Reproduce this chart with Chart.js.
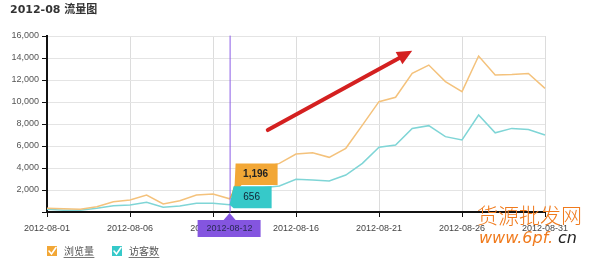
<!DOCTYPE html>
<html>
<head>
<meta charset="utf-8">
<script src="https://cdn.jsdelivr.net/npm/chart.js@4"></script>
<style>
  body { margin: 0; background: #fff; }
  canvas { display: block; }
</style>
</head>
<body>
<canvas id="trafficStats" width="590" height="263"></canvas>
<script>
var days = [];
for (var d = 1; d <= 31; d++) days.push('2012-08-' + (d < 10 ? '0' + d : d));

var pageViews = [336, 300, 245, 485, 940, 1090, 1545, 727, 1030, 1545, 1636, 1196,
  3600, 4000, 4420, 5270, 5390, 4970, 5790, 7900, 10030, 10430, 12600, 13360,
  11850, 10940, 14180, 12450, 12500, 12600, 11240];
var visitors = [245, 150, 150, 336, 575, 636, 880, 427, 540, 790, 790, 656,
  1800, 2200, 2360, 2970, 2900, 2820, 3360, 4420, 5880, 6090, 7600, 7850,
  6850, 6545, 8820, 7200, 7600, 7500, 7000];
var seriesNames = ['浏览量', '访客数'];
var yTicks = [0, 2000, 4000, 6000, 8000, 10000, 12000, 14000, 16000];
var hoverIndex = 11;

var lineColors = ['#f4c27c', '#7fd5d6'];
var boxColors = ['#f2a736', '#36c9c9'];

function fmt(v) { return v.toLocaleString('en-US'); }

// title, tooltip, arrow, legend and watermark drawn on top
var extras = {
  id: 'extras',
  afterDraw: function(chart) {
    var c = chart.ctx, x = chart.scales.x, y = chart.scales.y, a = chart.chartArea;
    c.save();
    c.fillStyle = '#333';
    c.font = 'bold 11px "DejaVu Sans", "Noto Sans CJK SC"';
    c.textBaseline = 'middle';
    c.fillText('2012-08 流量图', 10, 10);

    // red arrow
    var x0 = x.getPixelForValue(13.3), y0 = y.getPixelForValue(7450);
    var x1 = x.getPixelForValue(22), y1 = y.getPixelForValue(14650);
    var ang = Math.atan2(y1 - y0, x1 - x0);
    c.strokeStyle = '#d42020'; c.fillStyle = '#d42020';
    c.lineWidth = 4; c.lineCap = 'round';
    c.beginPath(); c.moveTo(x0, y0);
    c.lineTo(x1 - 10 * Math.cos(ang), y1 - 10 * Math.sin(ang)); c.stroke();
    c.beginPath(); c.moveTo(x1, y1);
    c.lineTo(x1 - 15 * Math.cos(ang) + 7 * Math.sin(ang), y1 - 15 * Math.sin(ang) - 7 * Math.cos(ang));
    c.lineTo(x1 - 15 * Math.cos(ang) - 7 * Math.sin(ang), y1 - 15 * Math.sin(ang) + 7 * Math.cos(ang));
    c.closePath(); c.fill();

    // hover line and labels
    var hx = x.getPixelForValue(hoverIndex);
    c.strokeStyle = '#8a5ce6'; c.lineWidth = 1;
    c.beginPath(); c.moveTo(hx + 0.5, a.top); c.lineTo(hx + 0.5, a.bottom); c.stroke();

    c.fillStyle = '#8455e0';
    c.beginPath();
    c.moveTo(hx, a.bottom + 1); c.lineTo(hx + 6, a.bottom + 8); c.lineTo(hx + 31, a.bottom + 8);
    c.lineTo(hx + 31, a.bottom + 25); c.lineTo(hx - 32, a.bottom + 25); c.lineTo(hx - 32, a.bottom + 8);
    c.lineTo(hx - 6, a.bottom + 8); c.closePath(); c.fill();
    c.fillStyle = '#2a2a55';
    c.font = '9px "Liberation Sans", Arial';
    c.textAlign = 'center';
    c.fillText(days[hoverIndex], hx, a.bottom + 17);

    var py = y.getPixelForValue(pageViews[hoverIndex]);
    c.fillStyle = boxColors[0];
    c.beginPath();
    c.moveTo(hx, py); c.lineTo(hx + 5, y.getPixelForValue(2450)); c.lineTo(hx + 6, y.getPixelForValue(4400));
    c.lineTo(hx + 48, y.getPixelForValue(4400)); c.lineTo(hx + 48, y.getPixelForValue(2450));
    c.lineTo(hx + 12, y.getPixelForValue(2450)); c.closePath(); c.fill();
    c.fillStyle = '#222';
    c.font = 'bold 10px "Liberation Sans", Arial';
    c.fillText(fmt(pageViews[hoverIndex]), hx + 26, y.getPixelForValue(3450));

    var vy = y.getPixelForValue(visitors[hoverIndex]);
    c.fillStyle = boxColors[1];
    c.beginPath();
    c.moveTo(hx, vy); c.lineTo(hx + 4, y.getPixelForValue(2350));
    c.lineTo(hx + 42, y.getPixelForValue(2350)); c.lineTo(hx + 42, y.getPixelForValue(350));
    c.lineTo(hx + 4, y.getPixelForValue(350)); c.closePath(); c.fill();
    c.fillStyle = '#123';
    c.font = '10px "Liberation Sans", Arial';
    c.fillText(fmt(visitors[hoverIndex]), hx + 22, y.getPixelForValue(1350));

    // legend
    c.textAlign = 'left';
    var lx = [47, 112];
    for (var i = 0; i < 2; i++) {
      c.fillStyle = boxColors[i];
      c.fillRect(lx[i], 246, 10, 10);
      c.strokeStyle = '#fff'; c.lineWidth = 1.6;
      c.beginPath(); c.moveTo(lx[i] + 2, 251); c.lineTo(lx[i] + 4.5, 254); c.lineTo(lx[i] + 9, 247.5); c.stroke();
      c.fillStyle = '#555';
      c.font = '10px "Noto Sans CJK SC"';
      c.fillText(seriesNames[i], lx[i] + 17, 251);
      var w = c.measureText(seriesNames[i]).width;
      c.strokeStyle = '#777'; c.lineWidth = 1;
      c.beginPath(); c.moveTo(lx[i] + 17, 257.5); c.lineTo(lx[i] + 17 + w, 257.5); c.stroke();
    }

    // site watermark
    c.fillStyle = '#f07a1c';
    c.font = '300 21px "Noto Sans CJK SC"';
    c.fillText('货源批发网', 477, 215);
    c.font = 'italic 16px "DejaVu Sans"';
    c.fillText('www.6pf.', 479, 239);
    c.fillStyle = '#222';
    c.fillText('cn', 558, 239);
    c.restore();
  }
};

var ctx = document.getElementById('trafficStats').getContext('2d');
var chart = new Chart(ctx, {
  type: 'line',
  data: {
    labels: days,
    datasets: [{
      label: seriesNames[0],
      data: pageViews,
      borderColor: lineColors[0],
      borderWidth: 1.5,
      pointRadius: 0,
      tension: 0
    }, {
      label: seriesNames[1],
      data: visitors,
      borderColor: lineColors[1],
      borderWidth: 1.5,
      pointRadius: 0,
      tension: 0
    }]
  },
  options: {
    responsive: false,
    animation: false,
    layout: { padding: { top: 36, right: 45, bottom: 11, left: 0 } },
    plugins: { legend: { display: false }, tooltip: { enabled: false } },
    scales: {
      x: {
        offset: false,
        afterFit: function(s) { s.height = 40; },
        border: { color: '#111', width: 2 },
        grid: {
          color: function(c) { return c.index % 5 === 0 ? '#dcdcdc' : 'rgba(0,0,0,0)'; },
          tickColor: function(c) { return c.index % 5 === 0 ? '#111' : 'rgba(0,0,0,0)'; },
          tickLength: 5
        },
        ticks: {
          autoSkip: false,
          maxRotation: 0,
          padding: 6,
          color: '#444',
          font: { family: '"Liberation Sans", Arial', size: 9 },
          callback: function(v, i) { return i % 5 === 0 ? days[i] : ''; }
        }
      },
      y: {
        min: yTicks[0],
        max: yTicks[yTicks.length - 1],
        afterFit: function(s) { s.width = 47; },
        afterBuildTicks: function(s) { s.ticks = yTicks.map(function(v) { return { value: v }; }); },
        border: { color: '#111', width: 2 },
        grid: { color: '#e4e4e4', tickColor: '#111', tickLength: 5 },
        ticks: {
          padding: 3,
          color: '#555',
          font: { family: '"Liberation Sans", Arial', size: 9 },
          callback: function(v) { return v === 0 ? '' : fmt(v); }
        }
      }
    }
  },
  plugins: [extras]
});
</script>
</body>
</html>
